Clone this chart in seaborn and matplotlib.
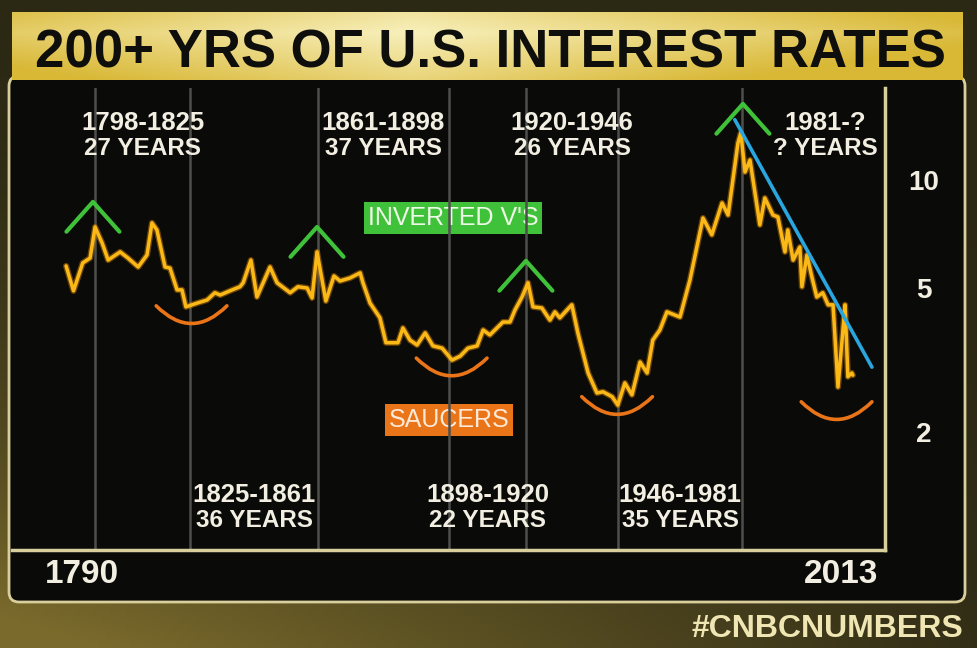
import numpy as np
import matplotlib
matplotlib.use('Agg')
import matplotlib.pyplot as plt
import matplotlib.colors as mcolors
import matplotlib.transforms as mtransforms
from matplotlib.patches import FancyBboxPatch
from matplotlib import font_manager as fm
import seaborn as sns

# long-term US interest rate (%)
years = [1789.8, 1791.9, 1794.5, 1796.6, 1798.0, 1800.0, 1801.7, 1805.1, 1807.3, 1810.2,
         1812.7, 1814.1, 1815.5, 1817.8, 1819.2, 1821.2, 1822.6, 1823.7, 1826.9, 1829.7,
         1831.9, 1833.4, 1836.8, 1839.0, 1839.9, 1842.1, 1843.8, 1847.5, 1849.5, 1853.2,
         1855.4, 1858.0, 1859.4, 1860.8, 1863.3, 1865.6, 1867.3, 1870.1, 1873.0, 1873.8,
         1875.8, 1878.6, 1880.3, 1883.7, 1885.1, 1887.1, 1889.1, 1891.4, 1893.6, 1896.2,
         1899.0, 1901.3, 1903.5, 1906.1, 1907.8, 1909.7, 1913.4, 1915.4, 1916.8, 1918.8,
         1920.5, 1921.9, 1924.4, 1926.7, 1928.1, 1929.5, 1931.5, 1932.9, 1934.6, 1937.5,
         1940.0, 1941.7, 1944.3, 1945.9, 1947.9, 1949.9, 1952.2, 1954.2, 1955.8, 1957.8,
         1959.8, 1963.5, 1966.3, 1970.0, 1972.5, 1975.4, 1977.1, 1979.9, 1980.7, 1981.9,
         1983.3, 1986.1, 1987.5, 1989.8, 1991.2, 1993.2, 1994.0, 1995.5, 1997.4, 1998.0,
         1999.4, 2000.8, 2002.2, 2003.9, 2005.4, 2006.8, 2008.2, 2009.6, 2010.2, 2011.0,
         2012.1, 2012.4]
rates = [5.77, 4.92, 5.88, 6.07, 7.40, 6.68, 5.99, 6.31, 6.07, 5.73,
         6.19, 7.60, 7.26, 5.73, 5.69, 4.95, 4.95, 4.44, 4.55, 4.64,
         4.86, 4.79, 4.95, 5.05, 5.18, 5.99, 4.73, 5.73, 5.18, 4.86,
         5.05, 5.01, 4.70, 6.31, 4.61, 5.41, 5.24, 5.34, 5.52, 5.18,
         4.55, 4.14, 3.53, 3.53, 3.88, 3.59, 3.48, 3.76, 3.46, 3.41,
         3.16, 3.24, 3.41, 3.46, 3.83, 3.71, 4.03, 4.03, 4.35, 4.73,
         5.18, 4.44, 4.41, 4.08, 4.30, 4.14, 4.35, 4.50, 3.76, 2.91,
         2.56, 2.58, 2.50, 2.37, 2.73, 2.53, 3.12, 2.91, 3.59, 3.83,
         4.30, 4.16, 5.27, 7.84, 7.04, 8.63, 7.99, 12.67, 13.51, 10.52,
         11.36, 7.50, 8.91, 7.99, 7.89, 6.31, 7.26, 5.99, 6.51, 5.05,
         6.19, 5.38, 4.73, 4.86, 4.50, 4.50, 2.66, 3.83, 4.50, 2.84,
         2.91, 2.87]

era_bounds = [1798, 1825, 1861, 1898, 1920, 1946, 1981]
top_label_years = [1811.5, 1879.5, 1933.0, 2004.5]
top_ranges = ['1798-1825', '1861-1898', '1920-1946', '1981-?']
top_lengths = ['27 YEARS', '37 YEARS', '26 YEARS', '? YEARS']
bottom_label_years = [1843.0, 1909.0, 1963.5]
bottom_ranges = ['1825-1861', '1898-1920', '1946-1981']
bottom_lengths = ['36 YEARS', '22 YEARS', '35 YEARS']

peak_years = [1797.4, 1860.8, 1919.9, 1981.3]
peak_levels = [8.69, 7.40, 5.96, 16.26]
saucer_years = [1825.3, 1898.9, 1945.7, 2007.8]
saucer_levels = [4.47, 3.20, 2.50, 2.42]

trend_years = [1979.0, 2017.8]
trend_rates = [14.7, 3.02]

ytick_values = [2, 5, 10]

W, H = 977, 648
GOLD_LINE = '#d9cf9c'
PANEL = '#0a0a08'
LINE = '#fbb918'
GREEN = '#3fc23a'
ORANGE = '#ea7418'
BLUE = '#2aa6df'
WHITE = '#f2efe2'

try:
    fm.findfont('Liberation Sans Narrow', fallback_to_default=False)
    narrow, narrow_size = 'Liberation Sans Narrow', 28
except ValueError:
    narrow, narrow_size = 'Liberation Sans', 23

sns.set_style('dark')
plt.rcParams['font.family'] = ['Liberation Sans', 'DejaVu Sans']

fig = plt.figure(figsize=(W / 100, H / 100), dpi=100)

# background (olive/gold studio backdrop)
bg = fig.add_axes([0, 0, 1, 1], zorder=0)
bg.set_xlim(0, W)
bg.set_ylim(H, 0)
bg.axis('off')
gx, gy = np.meshgrid(np.linspace(0, 1, 240), np.linspace(0, 1, 160))
dark = np.array(mcolors.to_rgb('#2b2814'))
gold = np.array(mcolors.to_rgb('#7a6a2c'))
t = np.clip(gy ** 2 * (1.1 - gx), 0, 1)[..., None]
bg.imshow(dark * (1 - t) + gold * t, extent=[0, W, H, 0], aspect='auto', zorder=0)

panel = FancyBboxPatch((9, 76), 956, 526, boxstyle='round,pad=0,rounding_size=10',
                       fc=PANEL, ec=GOLD_LINE, lw=2, zorder=1)
bg.add_patch(panel)

# title bar with yellow gradient
tx, ty = np.meshgrid(np.linspace(0, 1, 300), np.linspace(0, 1, 60))
pale = np.array(mcolors.to_rgb('#f8f0bc'))
yel = np.array(mcolors.to_rgb('#d9b836'))
tt = np.clip(np.abs(tx - 0.42) * 1.5 + np.abs(ty - 0.3) * 0.7, 0, 1)[..., None]
bg.imshow(pale * (1 - tt) + yel * tt, extent=[12, 963, 80, 12], aspect='auto', zorder=2)
bg.text(490, 68, '200+ YRS OF U.S. INTEREST RATES', ha='center', va='baseline',
        fontsize=38, fontweight='bold', color='#0e0e0c', zorder=3)

# main chart
ax = fig.add_axes([12 / W, 1 - 550 / H, (885 - 12) / W, (550 - 88) / H], zorder=2)
ax.set_facecolor('none')
ax.set_yscale('log')
ax.set_xlim(1774.5, 2021.5)
ax.set_ylim(0.938, 18.0)

for b in era_bounds:
    ax.axvline(b, color='#4e4e4c', lw=1.8, zorder=1)

sns.lineplot(x=years, y=rates, ax=ax, color='#e08a00', lw=4.4, alpha=0.45, zorder=3)
sns.lineplot(x=years, y=rates, ax=ax, color=LINE, lw=2.5, zorder=4)
sns.lineplot(x=trend_years, y=trend_rates, ax=ax, color=BLUE, lw=2.6, zorder=5)

# inverted V's over the peaks
for px, pl in zip(peak_years, peak_levels):
    ax.plot([px - 7.5, px, px + 7.5], [pl / 1.21, pl, pl / 1.21], color=GREEN, lw=3,
            solid_capstyle='round', zorder=5)

# saucers under the troughs
for sx, sl in zip(saucer_years, saucer_levels):
    ax.annotate('', xy=(sx + 10, sl), xytext=(sx - 10, sl),
                arrowprops=dict(arrowstyle='-', color=ORANGE, lw=2.6,
                                connectionstyle='arc3,rad=0.5', shrinkA=0, shrinkB=0),
                zorder=5)

for side in ['left', 'top']:
    ax.spines[side].set_visible(False)
for side in ['bottom', 'right']:
    ax.spines[side].set_color(GOLD_LINE)
    ax.spines[side].set_linewidth(2.5)
ax.grid(False)
ax.set_xticks([])
ax.yaxis.tick_right()
ax.yaxis.set_minor_locator(matplotlib.ticker.NullLocator())
ax.set_yticks(ytick_values)
ax.set_yticklabels([str(v) for v in ytick_values])
ax.tick_params(axis='y', length=0, pad=28, labelsize=20, labelcolor=WHITE)
for lab in ax.get_yticklabels():
    lab.set_fontweight('bold')
    lab.set_ha('center')
ax.set_xlabel('')
ax.set_ylabel('')
ax.legend_ = None

# era labels: x in years, y in pixels
trans = mtransforms.blended_transform_factory(ax.transData, bg.transData)
for lx, r, n in zip(top_label_years, top_ranges, top_lengths):
    ax.text(lx, 130, r, transform=trans, ha='center', va='baseline', fontsize=18.5,
            fontweight='bold', color=WHITE, zorder=6)
    ax.text(lx, 155, n, transform=trans, ha='center', va='baseline', fontsize=17.5,
            fontweight='bold', color=WHITE, zorder=6)
for lx, r, n in zip(bottom_label_years, bottom_ranges, bottom_lengths):
    ax.text(lx, 502, r, transform=trans, ha='center', va='baseline', fontsize=18.5,
            fontweight='bold', color=WHITE, zorder=6)
    ax.text(lx, 527, n, transform=trans, ha='center', va='baseline', fontsize=17.5,
            fontweight='bold', color=WHITE, zorder=6)

# legend-like tags
bg.text(453, 218, "INVERTED V'S", ha='center', va='center', fontsize=18, color='#eef8e6',
        zorder=4, bbox=dict(boxstyle='square,pad=0.15', fc=GREEN, ec='none'))
bg.text(449, 420, 'SAUCERS', ha='center', va='center', fontsize=18, color='#fde9d6',
        zorder=4, bbox=dict(boxstyle='square,pad=0.15', fc=ORANGE, ec='none'))

# axis end years and hashtag
bg.text(45, 583, '1790', ha='left', va='baseline', fontsize=24, fontweight='bold',
        color=WHITE, zorder=4)
bg.text(878, 583, '2013', ha='right', va='baseline', fontsize=24, fontweight='bold',
        color=WHITE, zorder=4)
bg.text(963, 637, '#CNBCNUMBERS', ha='right', va='baseline', fontsize=narrow_size,
        fontweight='bold', family=narrow, color='#efe6b4', zorder=4)

fig.savefig('out.png', dpi=100)
